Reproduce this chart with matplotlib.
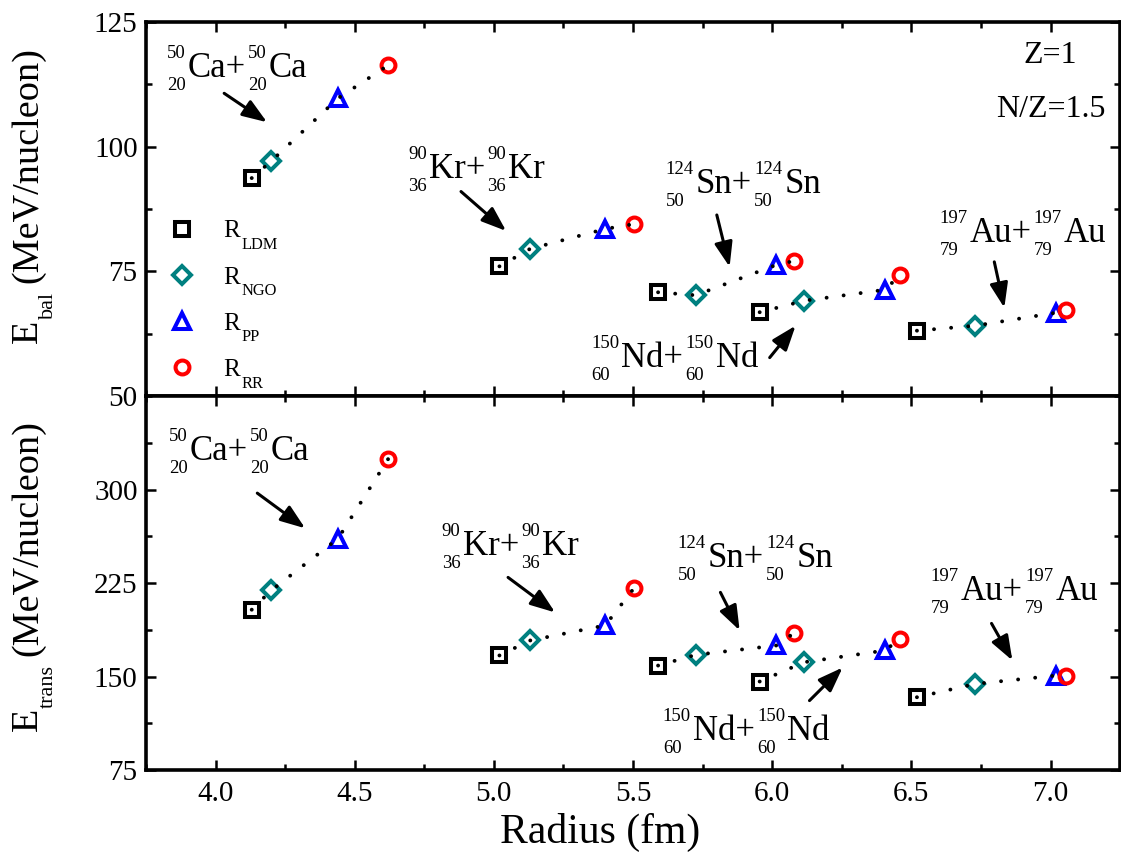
import matplotlib
matplotlib.use("Agg")
import matplotlib.pyplot as plt
from matplotlib.ticker import MultipleLocator
from matplotlib.font_manager import FontProperties

plt.rcParams['font.family'] = 'Liberation Serif'

# Raios (fm) para cada sistema: Ca, Kr, Sn, Nd, Au
r_ldm = [4.13, 5.02, 5.59, 5.955, 6.52]
r_ngo = [4.20, 5.13, 5.725, 6.115, 6.73]
r_pp = [4.44, 5.40, 6.015, 6.405, 7.02]
r_rr = [4.62, 5.505, 6.08, 6.46, 7.055]

# E_bal (MeV/nucleon)
ebal_ldm = [93.7, 76.0, 70.8, 66.8, 63.1]
ebal_ngo = [97.1, 79.5, 70.2, 69.1, 64.1]
ebal_pp = [109.7, 83.5, 76.3, 71.3, 66.7]
ebal_rr = [116.3, 84.5, 77.1, 74.3, 67.2]

# E_trans (MeV/nucleon)
etrans_ldm = [203.6, 166.9, 158.8, 146.0, 133.4]
etrans_ngo = [219.1, 178.9, 167.4, 161.5, 144.1]
etrans_pp = [260.6, 191.0, 174.9, 170.9, 150.8]
etrans_rr = [324.4, 221.3, 185.1, 180.3, 150.8]

# nucleos: (A, Z, simbolo)
nucleos = [('50', '20', 'Ca'), ('90', '36', 'Kr'), ('124', '50', 'Sn'),
           ('150', '60', 'Nd'), ('197', '79', 'Au')]
metodos = ['LDM', 'NGO', 'PP', 'RR']

# posicoes das anotacoes: (texto, cauda da seta, ponta da seta)
anot_bal = [((3.826, 113.9), (4.031, 110.7), (4.185, 104.9)),
            ((4.692, 93.7), (4.882, 91.0), (5.044, 83.1)),
            ((5.617, 90.7), (5.801, 86.3), (5.847, 75.9)),
            ((5.35, 55.9), (5.991, 57.7), (6.084, 64.1)),
            ((6.601, 80.9), (6.798, 76.9), (6.834, 67.7))]
anot_trans = [((3.832, 323.6), (4.150, 297.1), (4.322, 268.9)),
              ((4.813, 247.2), (5.051, 229.5), (5.220, 201.4)),
              ((5.660, 237.6), (5.814, 217.5), (5.883, 187.0)),
              ((5.607, 99.4), (6.134, 130.7), (6.253, 157.2)),
              ((6.569, 211.1), (6.788, 192.6), (6.863, 162.9))]

fig = plt.figure(figsize=(11.21, 8.52), dpi=100)
renderer = fig.canvas.get_renderer()


def largura(s, tam):
    w, h, d = renderer.get_text_width_height_descent(s, FontProperties(size=tam), ismath=False)
    return w * 72 / fig.dpi


# escreve grupos de texto lado a lado (com sobrescrito/subscrito)
def compor(ax, xy, grupos, coords='data', rot=0, inicio=0.0):
    pos = inicio
    for grupo, gap in grupos:
        w = 0
        for txt, tam, dy in grupo:
            off = (pos, dy) if rot == 0 else (-dy, pos)
            ax.annotate(txt, xy, xycoords=coords, xytext=off, textcoords='offset points',
                        fontsize=tam, ha='left', va='baseline', rotation=rot,
                        rotation_mode='anchor', annotation_clip=False)
            w = max(w, largura(txt, tam))
        pos += w + gap
    return pos


def rotulo_nucleo(ax, xy, A, Z, simb):
    grupos = [([(A, 13.5, 13.6), (Z, 13.5, -9.3)], 1.5),
              ([(simb + '+', 25, 0)], 1.5),
              ([(A, 13.5, 13.6), (Z, 13.5, -9.3)], 1.5),
              ([(simb, 25, 0)], 0)]
    compor(ax, xy, grupos)


def rotulo_y(ax, sub, centro):
    grupos = [([('E', 27.5, 0)], 0.5),
              ([(sub, 16, -11.5)], 6),
              ([('(MeV/nucleon)', 27.5, 0)], 0)]
    total = sum(max(largura(t, s) for t, s, d in g) + gap for g, gap in grupos)
    compor(ax, (-0.112, centro), grupos, coords='axes fraction', rot=90, inicio=-total / 2)


def painel(ax, e_ldm, e_ngo, e_pp, e_rr, anot):
    for i in range(len(r_ldm)):
        ax.plot([r_ldm[i], r_ngo[i], r_pp[i], r_rr[i]],
                [e_ldm[i], e_ngo[i], e_pp[i], e_rr[i]],
                color='k', lw=2.8, linestyle=(0, (0.01, 4.4)),
                dash_capstyle='round', zorder=3)
    ax.plot(r_ldm, e_ldm, 's', ms=9.4, mfc='none', mec='k', mew=2.9, label='R', zorder=2)
    ax.plot(r_ngo, e_ngo, 'D', ms=8.8, mfc='none', mec='#008080', mew=2.9, label='R', zorder=2)
    ax.plot(r_pp, e_pp, '^', ms=11, mfc='none', mec='#0000ff', mew=2.9, label='R', zorder=2)
    ax.plot(r_rr, e_rr, 'o', ms=10, mfc='none', mec='#ff0000', mew=2.9, label='R', zorder=2)

    for (A, Z, simb), (txt, cauda, ponta) in zip(nucleos, anot):
        rotulo_nucleo(ax, txt, A, Z, simb)
        ax.annotate('', xy=ponta, xytext=cauda,
                    arrowprops=dict(arrowstyle='-|>,head_length=0.6,head_width=0.22',
                                    color='k', lw=2.2, shrinkA=0, shrinkB=0,
                                    mutation_scale=25))

    ax.set_xlim(3.75, 7.25)
    ax.xaxis.set_major_locator(MultipleLocator(0.5))
    ax.xaxis.set_minor_locator(MultipleLocator(0.25))
    ax.tick_params(which='both', direction='in', top=True, right=True, width=1.8, labelsize=21)
    ax.tick_params(which='major', length=7)
    ax.tick_params(which='minor', length=4.5)
    ax.tick_params(axis='x', pad=8)
    ax.tick_params(axis='y', pad=6)
    for s in ax.spines.values():
        s.set_linewidth(2.6)


ax1 = fig.add_axes([0.1302, 0.5352, 0.869, 0.439])
ax2 = fig.add_axes([0.1302, 0.0962, 0.869, 0.439])

painel(ax1, ebal_ldm, ebal_ngo, ebal_pp, ebal_rr, anot_bal)
painel(ax2, etrans_ldm, etrans_ngo, etrans_pp, etrans_rr, anot_trans)

ax1.set_ylim(50, 125)
ax1.set_yticks([50, 75, 100, 125])
ax1.yaxis.set_minor_locator(MultipleLocator(12.5))
ax1.tick_params(axis='x', labelbottom=False)
rotulo_y(ax1, 'bal', 0.537)
ax1.text(7.0, 116.7, 'Z=1', fontsize=23, ha='center', va='baseline')
ax1.text(7.0, 105.9, 'N/Z=1.5', fontsize=23, ha='center', va='baseline')
leg = ax1.legend(loc='upper left', bbox_to_anchor=(0.024, 0.471), frameon=False, fontsize=18,
                 numpoints=1, handlelength=1.0, handletextpad=1.14, labelspacing=0.95,
                 borderaxespad=0, borderpad=0)

ax2.set_ylim(75, 375)
ax2.set_yticks([75, 150, 225, 300])
ax2.yaxis.set_minor_locator(MultipleLocator(37.5))
rotulo_y(ax2, 'trans', 0.519)
ax2.set_xlabel('Radius (fm)', fontsize=30)
ax2.xaxis.set_label_coords(0.466, -0.115)

# subscritos da legenda
fig.canvas.draw()
d_lp = renderer.get_text_width_height_descent('lp', FontProperties(size=18), ismath=False)[2]
for t, m in zip(leg.get_texts(), metodos):
    bb = t.get_window_extent(renderer)
    x = bb.x1 + 1.7
    y = bb.y0 + d_lp - 11.6
    fig.text(x / fig.bbox.width, y / fig.bbox.height, m, fontsize=11.8, ha='left', va='baseline')

fig.savefig('out.png', dpi=100)
